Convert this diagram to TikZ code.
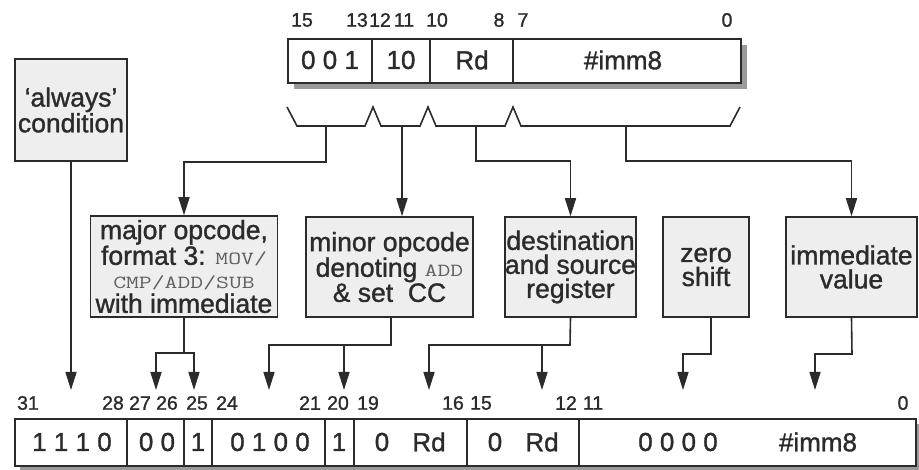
\documentclass[tikz,border=0pt]{standalone}
\usepackage{fontspec}
\setmainfont{Liberation Sans}[FakeBold=1.2]
\setmonofont{Latin Modern Mono}[FakeStretch=1.35]
\usetikzlibrary{arrows.meta}
\definecolor{ink}{HTML}{2B2B2B}
\definecolor{boxfill}{HTML}{EEEEEE}
\definecolor{shade}{HTML}{9A9A9A}
\newcommand{\ttword}[1]{{\fontsize{18.5}{24}\selectfont\ttfamily\color{ink!75}#1}}
\tikzset{
  ln/.style={draw=ink, line width=1.6pt},
  arr/.style={ln, -{Triangle[length=18pt,width=11pt]}},
  lbl/.style={draw=ink, line width=1.5pt, fill=boxfill, align=center, text=ink,
    font=\fontsize{26.5}{24}\selectfont, inner sep=0pt},
  bitno/.style={font=\fontsize{19.5}{20}\selectfont, text=ink, inner sep=0pt},
  fld/.style={font=\fontsize{26}{26}\selectfont, text=ink, inner sep=0pt},
  regbox/.style={draw=ink, line width=1.7pt, fill=white},
  regshadow/.style={fill=shade, draw=none},
}
\begin{document}
\begin{tikzpicture}[x=1pt,y=-1pt]
\useasboundingbox (0,0) rectangle (919,470);
% ---------- top register ----------
\fill[regshadow] (294,45) rectangle (747,89);
\node[regbox, minimum width=453pt, minimum height=44pt, anchor=north west, inner sep=0pt] (treg) at (287,38) {};
\foreach \x in {372,430,513} \draw[ln] (\x,38) -- (\x,82);
\node[fld] (tf1) at (330,60) {0 0 1};
\node[fld] (tf2) at (401,60) {10};
\node[fld] (tf3) at (472,60) {Rd};
\node[fld] (tf4) at (623,60) {\#imm8};
\node[bitno] (tb15) at (302,20) {15};
\node[bitno] (tb13) at (357,20) {13};
\node[bitno] (tb12) at (380,20) {12};
\node[bitno] (tb11) at (404,20) {11};
\node[bitno] (tb10) at (437,20) {10};
\node[bitno] (tb8)  at (499,20) {8};
\node[bitno] (tb7)  at (523,20) {7};
\node[bitno] (tb0)  at (727,20) {0};
% ---------- braces ----------
\draw[ln, line join=miter] (287,107) -- (297,126) -- (365,126) -- (373,107) -- (381,126)
  -- (420,126) -- (428,107) -- (436,126) -- (505,126) -- (513,107) -- (521,126)
  -- (730,126) -- (740,107);
\coordinate (b1) at (326,126);
\coordinate (b2) at (402,126);
\coordinate (b3) at (476,126);
\coordinate (b4) at (626,126);
% ---------- label boxes ----------
\node[lbl, minimum width=112pt, minimum height=102pt] (always) at (71,110)
  {`always'\\condition};
\node[lbl, minimum width=187pt, minimum height=101pt] (major) at (184,266.5)
  {major opcode,\\format 3: \ttword{MOV/}\\\ttword{CMP/ADD/SUB}\\with immediate};
\node[lbl, minimum width=167pt, minimum height=100pt] (minor) at (389.5,267)
  {minor opcode\\denoting \ttword{ADD}\\\& set\ \ CC};
\node[lbl, minimum width=131pt, minimum height=100pt] (dest) at (570.5,267)
  {destination\\and source\\register};
\node[lbl, minimum width=86pt, minimum height=100pt] (zero) at (706,267)
  {zero\\shift};
\node[lbl, minimum width=131pt, minimum height=100pt] (imm) at (851.5,267)
  {immediate\\value};
% ---------- arrows from braces to boxes ----------
\draw[arr] (b1) -- (326,162) -| (major.north);
\draw[arr] (b2) -- (minor.north -| b2);
\draw[arr] (b3) -- (476,161) -| (dest.north);
\draw[arr] (b4) -- (626,161) -| (imm.north);
% ---------- bottom register ----------
\fill[regshadow] (20,424) rectangle (925,475);
\node[regbox, minimum width=901pt, minimum height=47pt, anchor=north west, inner sep=0pt] (breg) at (14,418) {};
\foreach \x in {127,184,212,325,354,467,579} \draw[ln] (\x,418) -- (\x,465);
\node[fld] (bf1) at (72,442) {1 1 1 0};
\node[fld] (bf2) at (157,442) {0 0};
\node[fld] (bf3) at (198,442) {1};
\node[fld] (bf4) at (270,442) {0 1 0 0};
\node[fld] (bf5) at (339,442) {1};
\node[fld] (bf6a) at (382,442) {0};
\node[fld] (bf6b) at (429,442) {Rd};
\node[fld] (bf7a) at (495,442) {0};
\node[fld] (bf7b) at (542,442) {Rd};
\node[fld] (bf8a) at (678,442) {0 0 0 0};
\node[fld] (bf8b) at (818,442) {\#imm8};
\node[bitno] (bb31) at (28,403) {31};
\node[bitno] (bb28) at (113,403) {28};
\node[bitno] (bb27) at (140,403) {27};
\node[bitno] (bb26) at (167,403) {26};
\node[bitno] (bb25) at (197,403) {25};
\node[bitno] (bb24) at (227,403) {24};
\node[bitno] (bb21) at (310,403) {21};
\node[bitno] (bb20) at (338,403) {20};
\node[bitno] (bb19) at (368,403) {19};
\node[bitno] (bb16) at (453,403) {16};
\node[bitno] (bb15) at (481,403) {15};
\node[bitno] (bb12) at (566,403) {12};
\node[bitno] (bb11) at (593,403) {11};
\node[bitno] (bb0)  at (903,403) {0};
% ---------- arrow tips onto bottom register ----------
\coordinate (tA) at (71,390);
\coordinate (tB1) at (156,390);
\coordinate (tB2) at (194,390);
\coordinate (tC1) at (269,390);
\coordinate (tC2) at (344,390);
\coordinate (tD1) at (429,390);
\coordinate (tD2) at (542,390);
\coordinate (tE) at (683,390);
\coordinate (tF) at (815,390);
\draw[arr] (always.south) -- (tA);
\draw[arr] (major.south) -- (184,353) -| (tB1);
\draw[arr] (184,353) -| (tB2);
\draw[arr] (minor.south -| 391,0) -- (391,345) -| (tC1);
\draw[arr] (391,345) -| (tC2);
\draw[arr] (dest.south) -- (570,345) -| (tD1);
\draw[arr] (570,345) -| (tD2);
\draw[arr] (zero.south -| 711,0) -- (711,354) -| (tE);
\draw[arr] (imm.south) -- (852,354) -| (tF);
\end{tikzpicture}
\end{document}
